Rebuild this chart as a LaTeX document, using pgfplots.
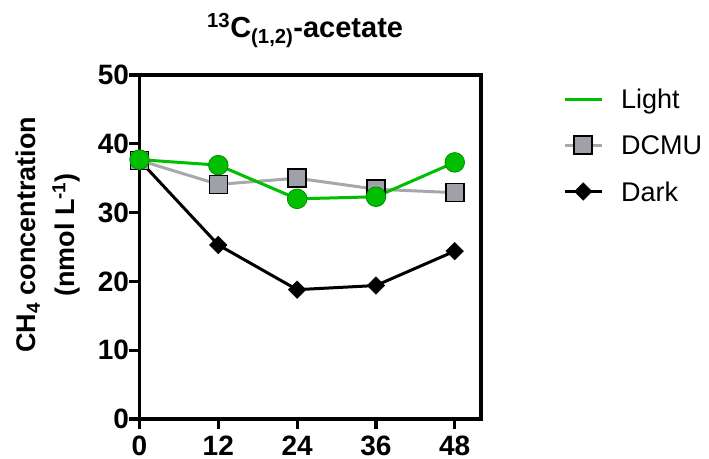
\documentclass[border=0pt]{standalone}
\usepackage{pgfplots}
\pgfplotsset{compat=1.18}
\usepackage{fontspec}
\setmainfont{Liberation Sans}

\definecolor{lightgreen}{RGB}{0,190,0}
\definecolor{lightedge}{RGB}{0,140,0}
\definecolor{dcmuline}{RGB}{168,168,172}
\definecolor{dcmufill}{RGB}{160,160,168}

\newcommand{\ticksize}{\fontsize{28}{32}\selectfont\bfseries}
\newcommand{\labelsize}{\fontsize{27}{39}\selectfont\bfseries}
\newcommand{\legsize}{\fontsize{27}{32}\selectfont}

\begin{document}
\begin{tikzpicture}
\path[use as bounding box] (0pt,0pt) rectangle (709pt,458pt);
\begin{axis}[
  at={(139.5pt,39pt)}, anchor=south west,
  scale only axis,
  width=341.5pt, height=344pt,
  xmin=0, xmax=52, ymin=0, ymax=50,
  xtick={0,12,24,36,48}, ytick={0,10,20,30,40,50},
  axis line style={line width=3.2pt},
  every tick/.style={line width=3.2pt, black},
  tick align=outside, tick pos=left,
  major tick length=10pt,
  /pgf/number format/assume math mode=true,
  tick label style={font=\ticksize},
  yticklabel style={xshift=3pt},
  xticklabel style={inner sep=0pt, yshift=-6.5pt},
  title={\textsuperscript{13}C\textsubscript{(1,2)}-acetate},
  title style={font=\fontsize{29}{32}\selectfont\bfseries, at={(axis description cs:0.485,1)}, anchor=base, yshift=32pt},
  ylabel={CH\textsubscript{4} concentration\\(nmol L\textsuperscript{-1})},
  ylabel style={font=\labelsize, align=center, at={(axis description cs:-0.268,0.535)}, anchor=center},
  reverse legend,
  legend style={draw=none, fill=none, at={(axis description cs:1.24,0.959)}, anchor=north west,
    font=\legsize, row sep=27pt, inner sep=0pt,
    nodes={inner sep=0pt, text depth=0pt}},
  legend cell align=left,
  legend image code/.code={%
    \draw[mark repeat=2, mark phase=2, #1] plot coordinates {(0pt,0pt) (18.5pt,0pt) (37pt,0pt)};
    \node[anchor=west, inner sep=0pt] at (37pt,0pt) {\hspace*{18pt}};},
]
% Dark
\addplot[black, line width=3pt, mark=square*, mark size=6.2pt,
  mark options={rotate=45, fill=black, draw=black, line width=0.5pt}]
  coordinates {(0,37.6) (12,25.3) (24,18.8) (36,19.4) (48,24.4)};
\addlegendentry{Dark}
% DCMU
\addplot[dcmuline, line width=3pt, mark=square*, mark size=9pt,
  mark options={fill=dcmufill, draw=black, line width=1.6pt}]
  coordinates {(0,37.6) (12,34.1) (24,35.0) (36,33.4) (48,32.9)};
\addlegendentry{DCMU}
% Light
\addplot[lightgreen, line width=3pt, mark=*, mark size=9.8pt,
  mark options={fill=lightgreen, draw=lightedge, line width=0.8pt},
  legend image code/.code={%
    \draw[lightgreen, line width=3pt] (0pt,0pt) -- (37pt,0pt);
    \node[anchor=west, inner sep=0pt] at (37pt,0pt) {\hspace*{18pt}};}]
  coordinates {(0,37.7) (12,36.9) (24,32.0) (36,32.3) (48,37.3)};
\addlegendentry{Light}
\end{axis}
\end{tikzpicture}
\end{document}
